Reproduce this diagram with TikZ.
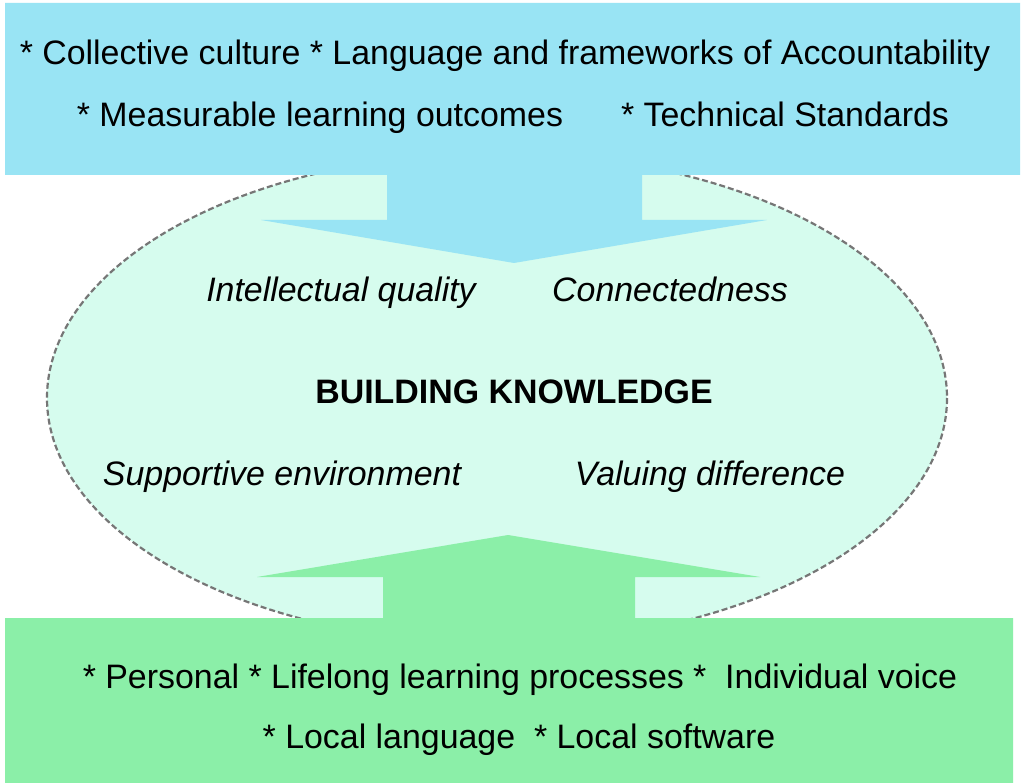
\documentclass[tikz,border=0pt]{standalone}
\usepackage{fontspec}
\setmainfont{Liberation Sans}
\definecolor{topblue}{RGB}{153,228,244}
\definecolor{botgreen}{RGB}{139,239,168}
\definecolor{mintfill}{RGB}{214,252,238}
\definecolor{rimgray}{RGB}{118,118,118}
\tikzset{
  lbl/.style={inner sep=0pt, anchor=base, font=\fontsize{33.9}{40}\selectfont},
  ilbl/.style={lbl, font=\fontsize{33.9}{40}\selectfont\itshape},
  blbl/.style={lbl, font=\fontsize{33.9}{40}\selectfont\bfseries},
  rim/.style={draw=rimgray, line width=2.2pt, dash pattern=on 6pt off 3pt, fill=mintfill},
}
\begin{document}
\begin{tikzpicture}[x=1pt,y=-1pt]
\useasboundingbox (0,0) rectangle (1023,783);
\fill[white] (0,0) rectangle (1023,783);
% ellipse
\draw[rim] (497,398) ellipse [x radius=450, y radius=245];
% top band with arrow
\fill[topblue] (5,3) -- (1020,3) -- (1020,175) -- (642,175) -- (642,220) -- (767,220)
  -- (514,263) -- (261,220) -- (387,220) -- (387,175) -- (5,175) -- cycle;
% bottom band with arrow
\fill[botgreen] (5,783) -- (1013,783) -- (1013,618) -- (635,618) -- (635,577) -- (760,577)
  -- (508,535) -- (257,577) -- (383,577) -- (383,618) -- (5,618) -- cycle;
% texts
\node[lbl] (t1) at (505,65) {* Collective culture * Language and frameworks of Accountability};
\node[lbl] (t2) at (320,127) {* Measurable learning outcomes};
\node[lbl] (t3) at (785,127) {* Technical Standards};
\node[ilbl] (m1) at (341,302) {Intellectual quality};
\node[ilbl] (m2) at (670,302) {Connectedness};
\node[blbl] (m3) at (514,404) {BUILDING KNOWLEDGE};
\node[ilbl] (m4) at (282,485) {Supportive environment};
\node[ilbl] (m5) at (710,485) {Valuing difference};
\node[lbl] (b1) at (520,688) {* Personal * Lifelong learning processes *\ \ Individual voice};
\node[lbl] (b2) at (519,748) {* Local language\ \ * Local software};
\end{tikzpicture}
\end{document}
